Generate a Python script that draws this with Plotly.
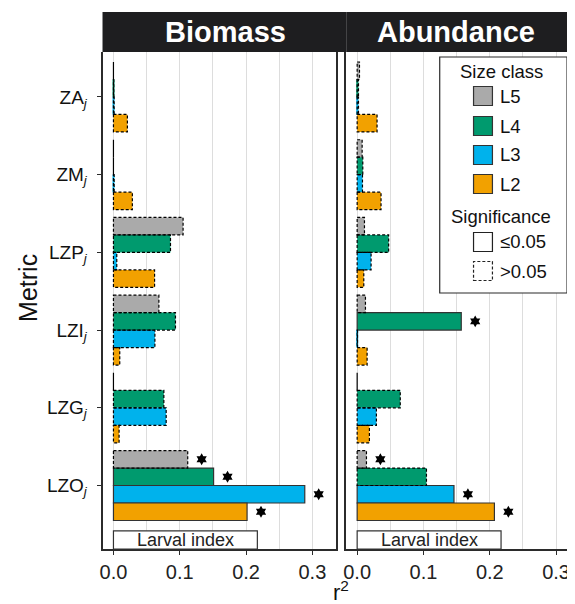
import plotly.graph_objects as go

# ---------------- data ----------------
metrics = ["ZA", "ZM", "LZP", "LZI", "LZG", "LZO"]
size_classes = ["L5", "L4", "L3", "L2"]

biomass_L5 = [0.0, 0.0, 0.105, 0.0685, 0.0, 0.112]
biomass_L4 = [0.0005, 0.0, 0.086, 0.0935, 0.076, 0.151]
biomass_L3 = [0.001, 0.001, 0.005, 0.0625, 0.0795, 0.2885]
biomass_L2 = [0.021, 0.0285, 0.062, 0.0095, 0.0085, 0.2015]

abundance_L5 = [0.0035, 0.0075, 0.011, 0.0125, 0.0, 0.014]
abundance_L4 = [0.002, 0.0085, 0.0475, 0.157, 0.065, 0.1045]
abundance_L3 = [0.002, 0.008, 0.021, 0.0005, 0.029, 0.146]
abundance_L2 = [0.03, 0.036, 0.01, 0.015, 0.0185, 0.207]

# significance (1 = p <= 0.05, solid outline)
biomass_sig_L5 = [0, 0, 0, 0, 0, 0]
biomass_sig_L4 = [0, 0, 0, 0, 0, 1]
biomass_sig_L3 = [0, 0, 0, 0, 0, 1]
biomass_sig_L2 = [0, 0, 0, 0, 0, 1]
abundance_sig_L5 = [0, 0, 0, 0, 0, 0]
abundance_sig_L4 = [0, 0, 0, 1, 0, 0]
abundance_sig_L3 = [0, 0, 0, 0, 0, 1]
abundance_sig_L2 = [0, 0, 0, 0, 0, 1]

# star markers
biomass_star_L5 = [0, 0, 0, 0, 0, 1]
biomass_star_L4 = [0, 0, 0, 0, 0, 1]
biomass_star_L3 = [0, 0, 0, 0, 0, 1]
biomass_star_L2 = [0, 0, 0, 0, 0, 1]
abundance_star_L5 = [0, 0, 0, 0, 0, 1]
abundance_star_L4 = [0, 0, 0, 1, 0, 0]
abundance_star_L3 = [0, 0, 0, 0, 0, 1]
abundance_star_L2 = [0, 0, 0, 0, 0, 1]

x_tick_vals = [0.0, 0.1, 0.2, 0.3]
x_tick_text = ["0.0", "0.1", "0.2", "0.3"]
panel_titles = ["Biomass", "Abundance"]
larval_label = "Larval index"
larval_extent = 0.217

# ---------------- style ----------------
colors = {"L5": "#AAAAAA", "L4": "#009A6E", "L3": "#00B2EC", "L2": "#F2A100"}
PAGE_OFF = 8           # default body margin of the html page
W, H = 575 - PAGE_OFF, 604 - PAGE_OFF
FONT = "Liberation Sans, Arial, Helvetica, sans-serif"
DARK = "#2B2B2B"
BAR_W = 0.225
offsets = {"L5": -0.45, "L4": -0.225, "L3": 0.0, "L2": 0.225}
LEG_FS = 18.5


def px(xp):
    return (xp - PAGE_OFF) / W


def py(yp):
    return 1 - (yp - PAGE_OFF) / H


panels = [
    dict(vals=[biomass_L5, biomass_L4, biomass_L3, biomass_L2],
         sig=[biomass_sig_L5, biomass_sig_L4, biomass_sig_L3, biomass_sig_L2],
         star=[biomass_star_L5, biomass_star_L4, biomass_star_L3, biomass_star_L2],
         xa="x", ya="y", dom=(100, 335), xrng=[-0.0165, 0.336]),
    dict(vals=[abundance_L5, abundance_L4, abundance_L3, abundance_L2],
         sig=[abundance_sig_L5, abundance_sig_L4, abundance_sig_L3, abundance_sig_L2],
         star=[abundance_star_L5, abundance_star_L4, abundance_star_L3, abundance_star_L2],
         xa="x2", ya="y2", dom=(345, 575), xrng=[-0.0165, 0.3285]),
]

ypos = list(range(len(metrics)))
fig = go.Figure()
shapes = []
annotations = []

for p in panels:
    for sc, vals, sig, star in zip(size_classes, p["vals"], p["sig"], p["star"]):
        off = offsets[sc]
        fig.add_trace(go.Bar(
            x=vals, y=ypos, orientation="h", width=BAR_W, offset=off,
            marker=dict(color=colors[sc],
                        line=dict(color="#333333", width=[1.2 if s else 0 for s in sig])),
            xaxis=p["xa"], yaxis=p["ya"], showlegend=False, hoverinfo="x+y",
        ))
        for v, yy, s in zip(vals, ypos, sig):
            if not s:
                shapes.append(dict(type="rect", xref=p["xa"], yref=p["ya"],
                                   x0=0, x1=v, y0=yy + off, y1=yy + off + BAR_W,
                                   line=dict(color="black", width=1.2, dash="3px,2px"),
                                   fillcolor="rgba(0,0,0,0)", layer="above"))
        sx = [v + 0.021 for v, st in zip(vals, star) if st]
        sy = [yy + off + BAR_W / 2 for yy, st in zip(ypos, star) if st]
        if sx:
            fig.add_trace(go.Scatter(
                x=sx, y=sy, mode="markers", xaxis=p["xa"], yaxis=p["ya"],
                marker=dict(symbol="hexagram", size=9, color="black",
                            line=dict(width=0)),
                showlegend=False, hoverinfo="skip"))
    # larval index box
    shapes.append(dict(type="rect", xref=p["xa"], yref=p["ya"] + " domain",
                       x0=0, x1=larval_extent, y0=0, y1=0.0365,
                       line=dict(color="#333333", width=1.2), fillcolor="white",
                       layer="above"))
    annotations.append(dict(x=larval_extent / 2, y=0.0185, xref=p["xa"],
                            yref=p["ya"] + " domain", text=larval_label,
                            showarrow=False, font=dict(size=18, color="#222222",
                                                       family=FONT),
                            xanchor="center", yanchor="middle"))

# strip headers
strip_centers = [224, 455]
for p, title, cx in zip(panels, panel_titles, strip_centers):
    shapes.append(dict(type="rect", xref="paper", yref="paper",
                       x0=px(p["dom"][0]), x1=px(p["dom"][1] + 10), y0=py(52), y1=py(12),
                       fillcolor="#1E1E20", line=dict(width=0), layer="above"))
    annotations.append(dict(x=px(cx), y=py(32), xref="paper", yref="paper",
                            text="<b>" + title + "</b>", showarrow=False,
                            font=dict(size=29, color="white", family=FONT),
                            xanchor="center", yanchor="middle"))

# axis titles
annotations.append(dict(x=px(25), y=py(288), xref="paper", yref="paper",
                        text="Metric", textangle=-90, showarrow=False,
                        font=dict(size=25, color="#111111", family=FONT),
                        xanchor="center", yanchor="middle"))
annotations.append(dict(x=px(340), y=py(591), xref="paper", yref="paper",
                        text="r<sup>2</sup>", showarrow=False,
                        font=dict(size=22, color="#111111", family=FONT),
                        xanchor="center", yanchor="middle"))

# legend (manual)
shapes.append(dict(type="rect", xref="paper", yref="paper",
                   x0=px(439), x1=px(567), y0=py(293), y1=py(57),
                   fillcolor="white", line=dict(color=DARK, width=1.2), layer="above"))
annotations.append(dict(x=px(501), y=py(71), xref="paper", yref="paper",
                        text="Size class", showarrow=False,
                        font=dict(size=LEG_FS, color="#111111", family=FONT),
                        xanchor="center", yanchor="middle"))
leg_rows = [96, 126, 155, 184]
for sc, yc in zip(size_classes, leg_rows):
    shapes.append(dict(type="rect", xref="paper", yref="paper",
                       x0=px(473), x1=px(492), y0=py(yc + 9.5), y1=py(yc - 9.5),
                       fillcolor=colors[sc], line=dict(color="#333333", width=1.2),
                       layer="above"))
    annotations.append(dict(x=px(498), y=py(yc), xref="paper", yref="paper",
                            text=sc, showarrow=False,
                            font=dict(size=LEG_FS, color="#111111", family=FONT),
                            xanchor="left", yanchor="middle"))
annotations.append(dict(x=px(501), y=py(217), xref="paper", yref="paper",
                        text="Significance", showarrow=False,
                        font=dict(size=LEG_FS, color="#111111", family=FONT),
                        xanchor="center", yanchor="middle"))
for lab, yc, dash in [("≤0.05", 242, "solid"), (">0.05", 271, "3px,2px")]:
    shapes.append(dict(type="rect", xref="paper", yref="paper",
                       x0=px(473), x1=px(492), y0=py(yc + 9.5), y1=py(yc - 9.5),
                       fillcolor="white", line=dict(color="#222222", width=1.2, dash=dash),
                       layer="above"))
    annotations.append(dict(x=px(498), y=py(yc), xref="paper", yref="paper",
                            text=lab, showarrow=False,
                            font=dict(size=LEG_FS, color="#111111", family=FONT),
                            xanchor="left", yanchor="middle"))

yrange = [5.817, -0.579]
common_x = dict(tickvals=x_tick_vals, ticktext=x_tick_text,
                showgrid=True, gridcolor="#DDDDDD", gridwidth=1,
                minor=dict(dtick=0.05, tick0=0, showgrid=True, gridcolor="#DDDDDD",
                           gridwidth=1, ticks=""),
                zeroline=False, showline=True, linecolor=DARK, linewidth=1.8,
                ticks="outside", ticklen=4, tickcolor=DARK, tickwidth=1,
                tickfont=dict(size=20, color="#222222", family=FONT), fixedrange=True)

fig.update_layout(
    width=W, height=H, margin=dict(l=0, r=0, t=0, b=0),
    paper_bgcolor="white", plot_bgcolor="white",
    barmode="overlay", showlegend=False,
    font=dict(family=FONT),
    xaxis=dict(common_x, domain=[px(100), px(335)], range=panels[0]["xrng"], anchor="y"),
    xaxis2=dict(common_x, domain=[px(345), 1.0], range=panels[1]["xrng"], anchor="y2"),
    yaxis=dict(domain=[py(549), py(52)], range=yrange, anchor="x",
               tickvals=ypos,
               ticktext=[m + "<sub><i>j</i></sub>" for m in metrics],
               tickfont=dict(size=19, color="#111111", family=FONT),
               ticklabelstandoff=6,
               showgrid=False, zeroline=False, showline=True, mirror=True,
               linecolor=DARK, linewidth=1.8, ticks="outside", ticklen=4,
               tickcolor=DARK, fixedrange=True),
    yaxis2=dict(domain=[py(549), py(52)], range=yrange, anchor="x2",
                showticklabels=False, ticks="", showgrid=False, zeroline=False,
                showline=True, linecolor=DARK, linewidth=1.8, fixedrange=True),
    shapes=shapes, annotations=annotations,
)

fig.write_html("out.html", config={"displayModeBar": False})
